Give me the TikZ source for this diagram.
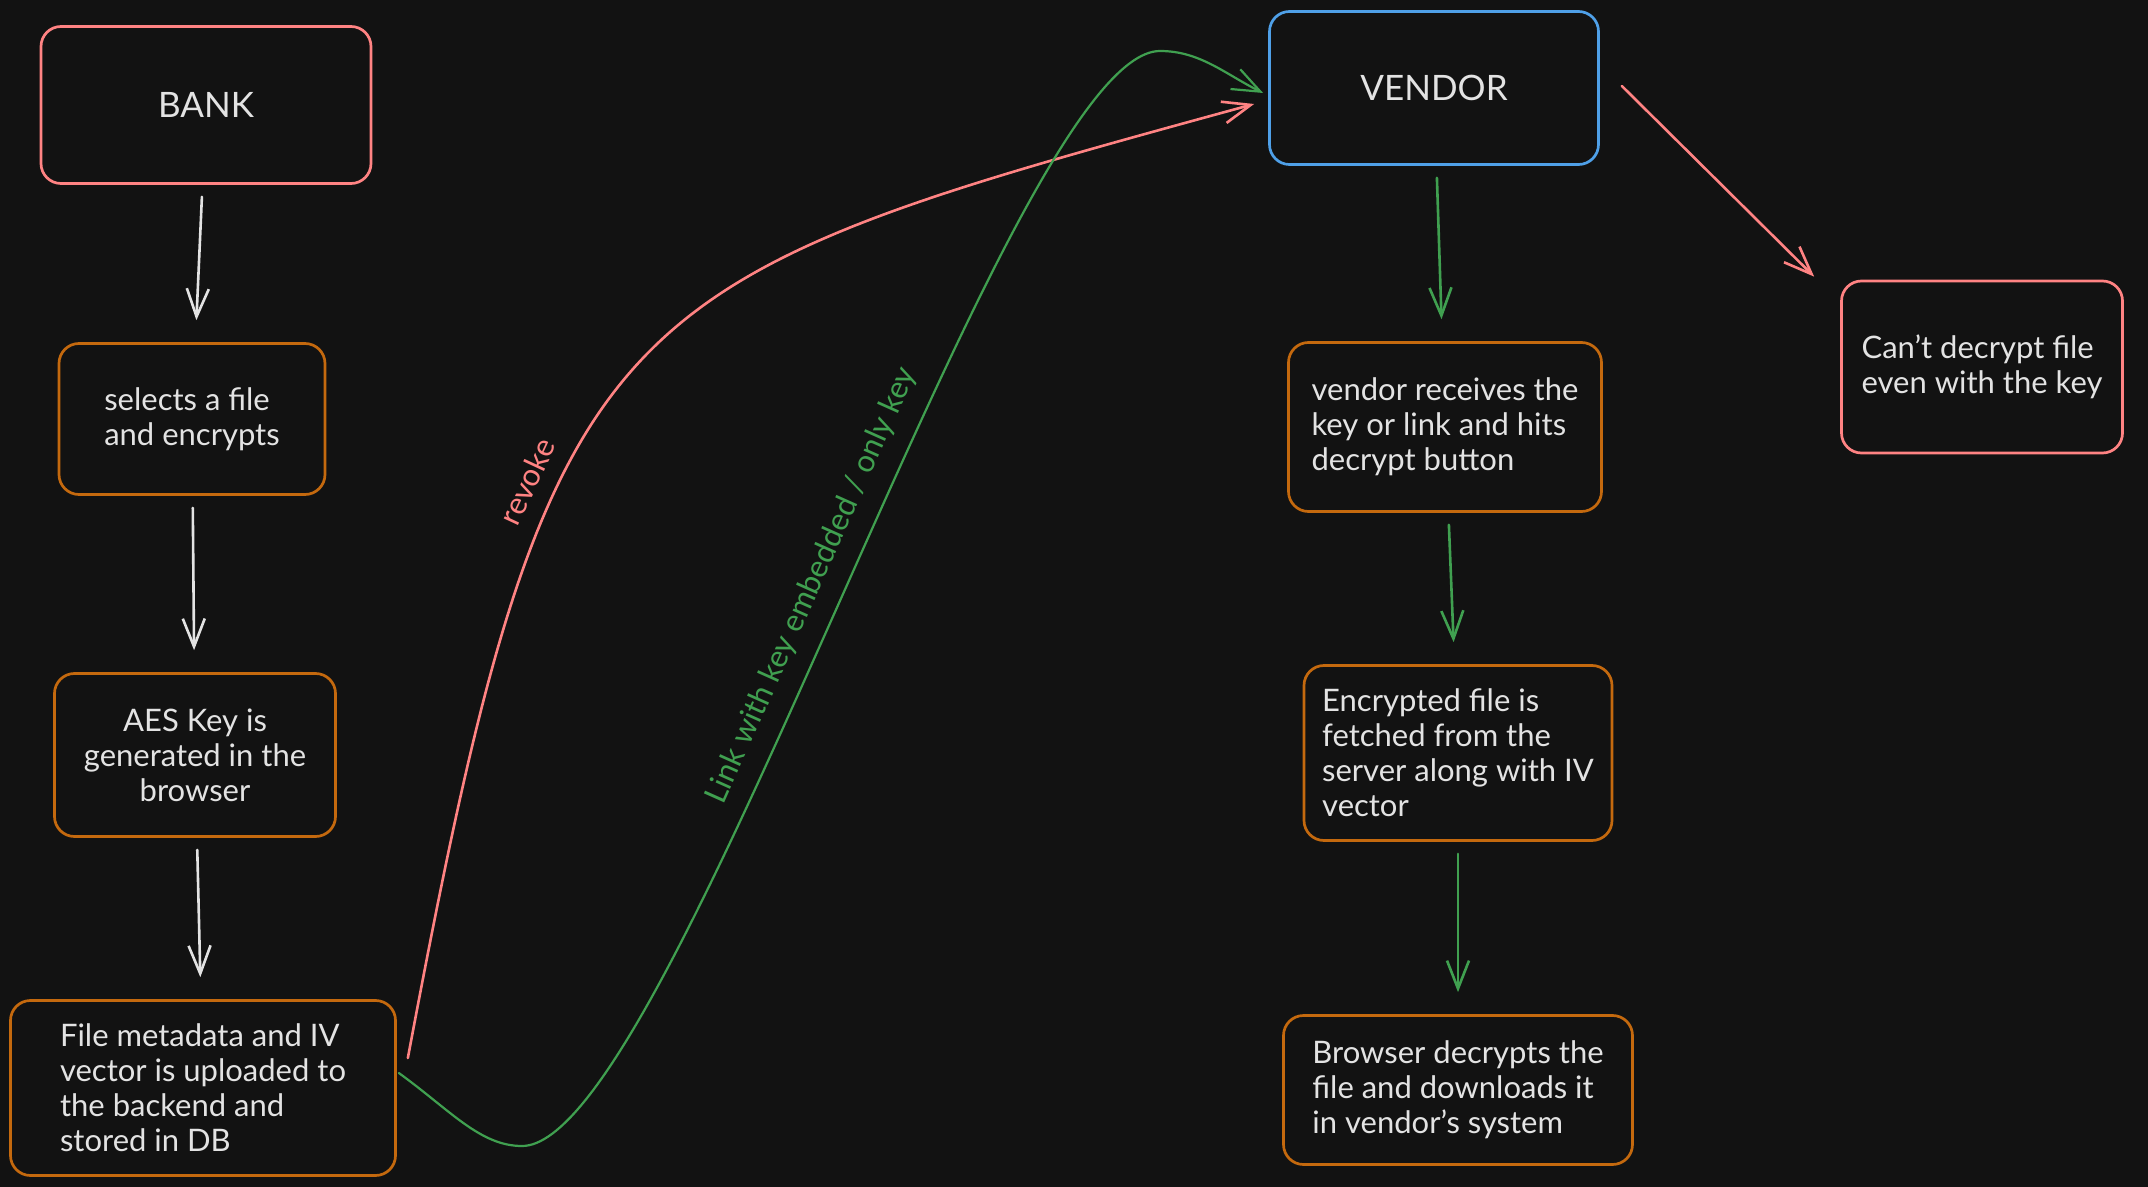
\documentclass[tikz,border=0pt]{standalone}
\usepackage{fontspec}
\setmainfont{Lato}
\usetikzlibrary{arrows.meta}
\definecolor{cBg}{HTML}{121212}
\definecolor{cInk}{HTML}{E3E3E3}
\definecolor{cRed}{HTML}{FF8383}
\definecolor{cOrange}{HTML}{C4690E}
\definecolor{cBlue}{HTML}{4FA0E8}
\definecolor{cGreen}{HTML}{40A050}
\tikzset{
  box/.style      = {draw, rounded corners=10pt, line width=1.35pt, text=cInk,
                     align=left, inner sep=0pt, font=\fontsize{15.5}{17.5}\selectfont},
  party/.style    = {box, align=center, font=\fontsize{17.5}{20}\selectfont},
  stepbox/.style  = {box, draw=cOrange},
  flow/.style     = {-{Straight Barb[length=14pt,width=11pt]}, line width=1.3pt,
                     line cap=round, line join=round},
  gap/.style      = {shorten <=6pt, shorten >=11pt},
  whiteflow/.style = {flow, draw=cInk},
  greenflow/.style = {flow, draw=cGreen},
  redflow/.style   = {flow, draw=cRed},
  lbl/.style      = {font=\fontsize{15.5}{17}\selectfont, sloped, above=5pt},
}
\begin{document}
\begin{tikzpicture}[x=0.5pt, y=-0.5pt]
  \fill[cBg] (0,0) rectangle (2148,1187);
  \useasboundingbox (0,0) rectangle (2148,1187);
  % bank side
  \node[party, draw=cRed, minimum width=165pt, minimum height=78.5pt] (bank) at (206,105) {BANK};
  \node[stepbox, minimum width=133pt, minimum height=75.5pt] (select) at (192,419)
    {selects a file\\ and encrypts};
  \node[stepbox, align=center, minimum width=140.5pt, minimum height=81.5pt] (aeskey) at (195,755)
    {AES Key is\\ generated in the\\ browser};
  \node[stepbox, minimum width=192.5pt, minimum height=87.5pt] (upload) at (203,1088)
    {File metadata and IV\\ vector is uploaded to\\ the backend and\\ stored in DB};
  % vendor side
  \node[party, draw=cBlue, minimum width=164.5pt, minimum height=76.5pt] (vendor) at (1434,88) {VENDOR};
  \node[stepbox, minimum width=156.5pt, minimum height=84.5pt] (receive) at (1445,427)
    {vendor receives the\\ key or link and hits\\ decrypt button};
  \node[stepbox, minimum width=154pt, minimum height=87.5pt] (fetch) at (1458,753)
    {Encrypted file is\\ fetched from the\\ server along with IV\\ vector};
  \node[stepbox, minimum width=174.5pt, minimum height=74.5pt] (decrypt) at (1458,1090)
    {Browser decrypts the\\ file and downloads it\\ in vendor's system};
  \node[box, draw=cRed, minimum width=140.5pt, minimum height=86pt] (cant) at (1982,367)
    {Can't decrypt file\\ even with the key};

  \draw[whiteflow, gap] (bank) -- (select);
  \draw[whiteflow, gap] (select) -- (aeskey);
  \draw[whiteflow, gap] (aeskey) -- (upload);
  \draw[greenflow, gap] (vendor) -- (receive);
  \draw[greenflow, gap] (receive) -- (fetch);
  \draw[greenflow, gap] (fetch) -- (decrypt);
  \draw[redflow] ([shift={(22,-2)}]vendor.east) -- ([shift={(-26,-3)}]cant.north west);

  % revoke and key hand-over
  \draw[redflow] ([shift={(11,-30)}]upload.east) .. controls (551,296) and (600,283)
    .. ([shift={(-14,16)}]vendor.west) node[lbl, text=cRed, pos=0.35] {revoke};
  \draw[greenflow, line width=1.1pt] ([shift={(2,-15)}]upload.east) .. controls (450,1110) and (480,1146)
    .. (522,1146) .. controls (672,1146) and (1010,51)
    .. (1160,51) node[lbl, text=cGreen, pos=0.5] {Link with key embedded / only key}
    .. controls (1200,51) and (1225,74) .. ([shift={(-5,5)}]vendor.west);
\end{tikzpicture}
\end{document}
